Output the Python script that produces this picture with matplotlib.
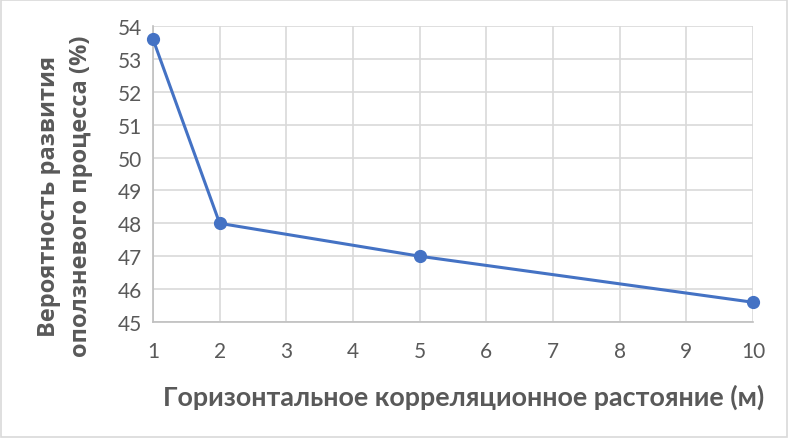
import matplotlib
matplotlib.use("Agg")
import matplotlib.pyplot as plt
from matplotlib.patches import Rectangle

x_values = [1, 2, 5, 10]
y_values = [53.6, 48.0, 47.0, 45.6]
x_ticks = [1, 2, 3, 4, 5, 6, 7, 8, 9, 10]
y_ticks = [45, 46, 47, 48, 49, 50, 51, 52, 53, 54]
x_label = "Горизонтальное корреляционное растояние (м)"
y_label = "Вероятность развития\nоползневого процесса (%)"

plt.rcParams['font.family'] = ['Lato', 'DejaVu Sans']

W, H = 789, 439
fig = plt.figure(figsize=(W/100, H/100), dpi=100)
ax = fig.add_axes([153/W, 1 - 323/H, (753-153)/W, (323-27)/H])

ax.plot(x_values, y_values, color='#4472C4', lw=2.2, marker='o', ms=8.5,
        markerfacecolor='#4472C4', markeredgecolor='#4472C4', zorder=3, clip_on=False)

ax.set_xlim(1, 10)
ax.set_ylim(45, 54)
ax.set_xticks(x_ticks)
ax.set_yticks(y_ticks)
ax.grid(True, color='#D9D9D9', lw=1.2)
ax.set_axisbelow(True)
for s in ['top', 'right']:
    ax.spines[s].set_visible(False)
for s in ['left', 'bottom']:
    ax.spines[s].set_color('#BFBFBF')
    ax.spines[s].set_linewidth(1.2)
ax.tick_params(axis='both', length=0, labelsize=15, labelcolor='#595959')
ax.tick_params(axis='x', pad=14)
ax.tick_params(axis='y', pad=8)

xl = fig.text(464/W, 1 - 397/H, x_label, ha='center', va='center', fontsize=17,
              fontweight='bold', color='#595959', family=['Lato', 'DejaVu Sans'])
yl = fig.text(65/W, 1 - 196/H, y_label, ha='center', va='center', fontsize=17,
              fontweight='bold', color='#595959', rotation=90, linespacing=1.4,
              multialignment='center', family=['Open Sans', 'DejaVu Sans'])

# fit label sizes to the reference extents
fig.canvas.draw()
r = fig.canvas.get_renderer()
bb = xl.get_window_extent(r)
xl.set_fontsize(17 * 604 / bb.width)
bb = yl.get_window_extent(r)
yl.set_fontsize(17 * 322 / bb.height)

fig.patches.append(Rectangle((0.001, 0.002), 0.997, 0.995, transform=fig.transFigure,
                             fill=False, edgecolor='#D9D9D9', lw=1.2))

fig.savefig('out.png', dpi=100, facecolor='white')
